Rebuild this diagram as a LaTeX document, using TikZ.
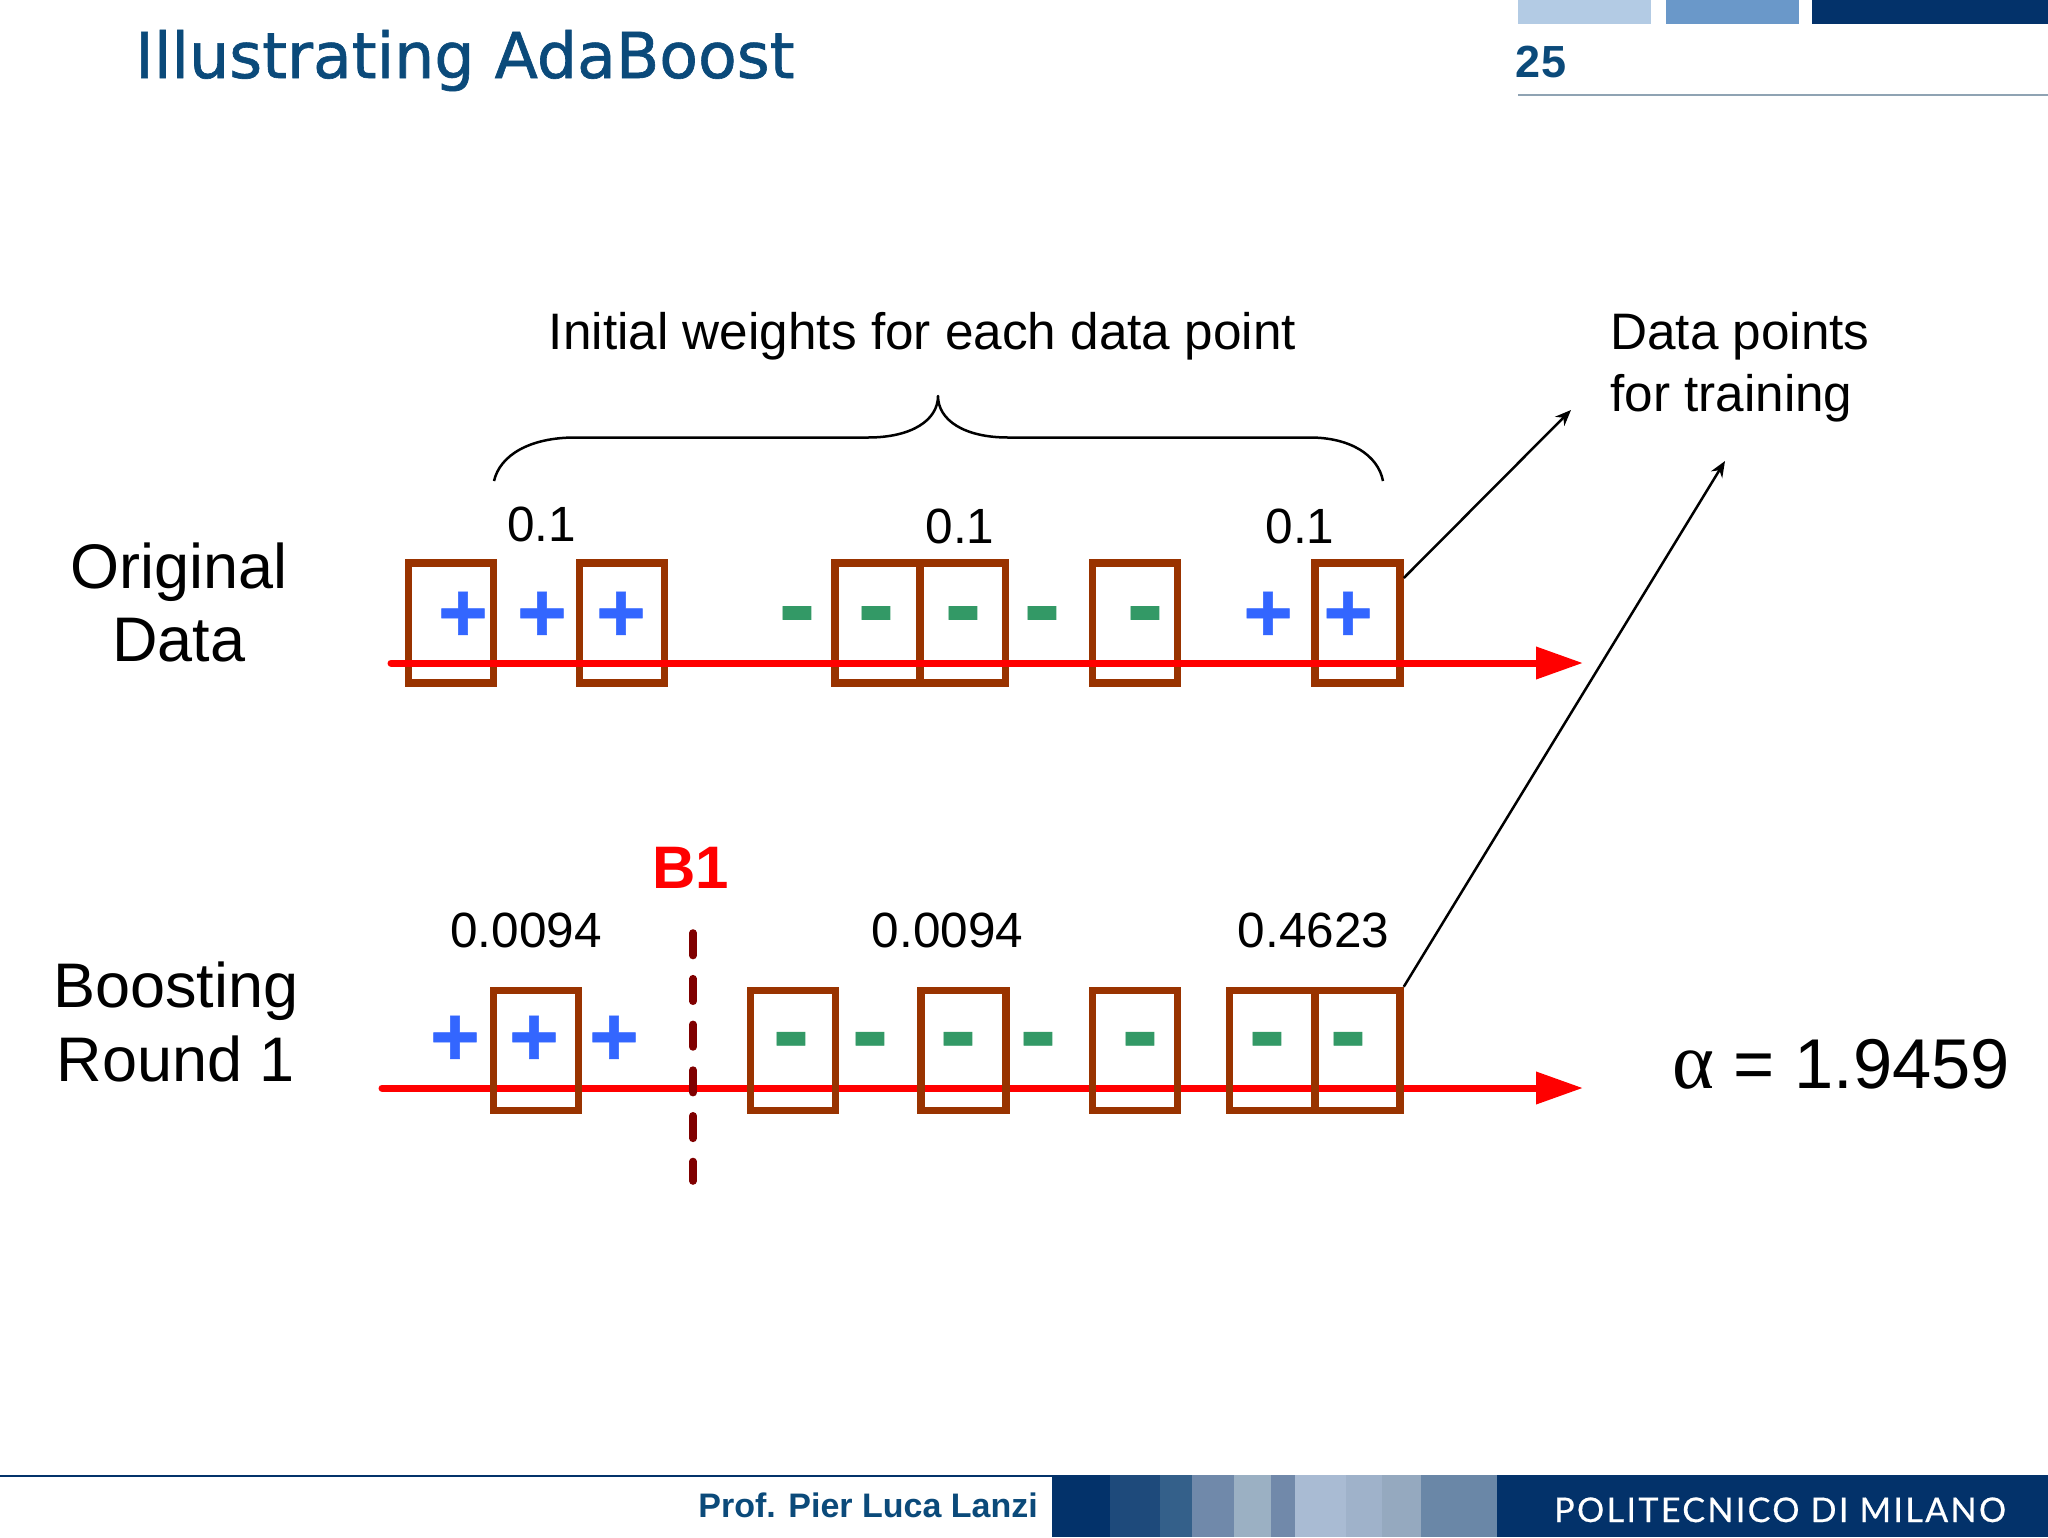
\documentclass[tikz,border=0pt]{standalone}
\usepackage{fontspec}
\usetikzlibrary{arrows.meta}
\setmainfont{Liberation Sans}
\newfontfamily\titlefont[FakeBold=1.0]{DejaVu Sans}
\newfontfamily\serifgreek{Liberation Serif}
\newfontfamily\polifont[LetterSpace=7,FakeBold=0.5]{Lato}
\newfontfamily\markfont[FakeBold=0.6]{Liberation Sans Bold}
\definecolor{boxbrown}{HTML}{993300}
\definecolor{axisred}{HTML}{FF0000}
\definecolor{plusblue}{HTML}{3366FF}
\definecolor{minusgreen}{HTML}{339966}
\definecolor{cutred}{HTML}{800000}
\definecolor{navy}{HTML}{03326A}
\definecolor{titleblue}{HTML}{0B4A7A}
\definecolor{barone}{HTML}{B3CBE4}
\definecolor{bartwo}{HTML}{6A98C9}
\definecolor{ruleg}{HTML}{8FA3B3}
\definecolor{fa}{HTML}{1E4A7B}
\definecolor{fb}{HTML}{34608A}
\definecolor{fc}{HTML}{7089AA}
\definecolor{fd}{HTML}{9BB0C3}
\definecolor{fe}{HTML}{7189AA}
\definecolor{ff}{HTML}{A9BBD3}
\definecolor{fg}{HTML}{9FB2CA}
\definecolor{fh}{HTML}{95A9BF}
\definecolor{fi}{HTML}{6A87A7}
\newcommand{\fs}[1]{\fontsize{#1}{#1}\selectfont}
\tikzset{
  databox/.style={draw=boxbrown,line width=7.5pt,rectangle,inner sep=0pt,minimum width=85pt,minimum height=120pt},
  plusmark/.style={text=plusblue,inner sep=0pt,font=\markfont\fs{85}},
  minusmark/.style={text=minusgreen,inner sep=0pt,font=\markfont\fs{110}},
  axis/.style={draw=axisred,line width=7pt,line cap=round,-{Triangle[length=47pt,width=31pt]}},
  weight/.style={anchor=base,inner sep=0pt,font=\fs{49}},
  biglabel/.style={anchor=base,inner sep=0pt,font=\fs{63}},
  annot/.style={anchor=base,inner sep=0pt,font=\fs{51.3}},
  pointer/.style={draw=black,line width=2.5pt,-{Stealth[length=16pt,width=13pt]}},
}
\begin{document}
\begin{tikzpicture}[x=1pt,y=-1pt]
\useasboundingbox (0,0) rectangle (2048,1537);
\fill[white] (0,0) rectangle (2048,1537);
% header
\node[anchor=base west,inner sep=0pt,font=\titlefont\fs{63.3},text=titleblue] (title) at (135,78) {Illustrating AdaBoost};
\fill[barone] (1518,0) rectangle (1651,24);
\fill[bartwo] (1666,0) rectangle (1799,24);
\fill[navy] (1812,0) rectangle (2048,24);
\node[anchor=base,inner sep=0pt,font=\fs{45}\bfseries,text=titleblue] (pagenum) at (1541,77) {25};
\draw[ruleg,line width=2pt] (1518,95) -- (2048,95);
% annotations
\node[annot] (initw) at (922.5,349) {Initial weights for each data point};
\node[annot,anchor=base west] (dp1) at (1610,349) {Data points};
\node[annot,anchor=base west] (dp2) at (1610,411) {for training};
\draw[line width=2.5pt,line join=round] (494,481) .. controls (500,455) and (530,437.5) .. (575,437.5) -- (868,437.5) .. controls (912,437.5) and (938,420) .. (938,396) .. controls (938,420) and (964,437.5) .. (1008,437.5) -- (1310,437.5) .. controls (1350,437.5) and (1378,455) .. (1383,481);
% row labels
\node[biglabel] (o1) at (179,588) {Original};
\node[biglabel] (o2) at (179,661) {Data};
\node[biglabel] (b1l) at (176,1007) {Boosting};
\node[biglabel] (b2l) at (176,1081) {Round 1};
% weights
\node[weight,font=\fs{49.5}] (w1) at (541.5,541) {0.1};
\node[weight,font=\fs{49.5}] (w2) at (960,543) {0.1};
\node[weight,font=\fs{49.5}] (w3) at (1300,543) {0.1};
\node[weight,font=\fs{49.5}] (w4) at (526,947) {0.0094};
\node[weight,font=\fs{49.5}] (w5) at (947.5,947) {0.0094};
\node[weight,font=\fs{49.5}] (w6) at (1313.5,947) {0.4623};
\node[anchor=base,inner sep=0pt,font=\fs{60}\bfseries,text=axisred] (bone) at (691,888) {B1};
\node[anchor=base west,inner sep=0pt,font=\fs{70.5}] (alpha) at (1672,1088) {{\serifgreek\fs{80}α} = 1.9459};
% row 1 boxes
\foreach \n/\x in {a/451,b/622,c/877.5,d/963,e/1135,f/1357.5}{
  \node[databox] (box\n) at (\x,623) {};
}
\coordinate (ax1s) at (391,663);
\coordinate (ax1e) at (1583,663);
\draw[axis] (ax1s) -- (ax1e);
\foreach \n/\x in {a/463,b/542,c/621,d/1268,e/1348}{
  \node[plusmark] (p\n) at (\x,616.7) {+};
}
\foreach \n/\x in {a/797,b/876,c/963,d/1042,e/1145}{
  \node[minusmark] (m\n) at (\x,624) {-};
}
% row 2 boxes
\coordinate (ax2s) at (382,1088);
\coordinate (ax2e) at (1583,1088);
\draw[axis] (ax2s) -- (ax2e);
\foreach \n/\x in {a/536,b/793,c/963.5,d/1135,e/1272,f/1357.5}{
  \node[databox] (row\n) at (\x,1050.5) {};
}
\foreach \n/\x in {a/455,b/534,c/614}{
  \node[plusmark] (q\n) at (\x,1040.7) {+};
}
\foreach \n/\x in {a/791,b/870,c/958,d/1038,e/1140,f/1267,g/1348}{
  \node[minusmark] (r\n) at (\x,1049.7) {-};
}
% decision boundary
\coordinate (cuts) at (693,933);
\coordinate (cute) at (693,1181);
\draw[draw=cutred,line width=7.6pt,line cap=round,dash pattern=on 22.5pt off 23.2pt] (cuts) -- (cute);
% pointers
\coordinate (dpa) at (1571,410);
\coordinate (dpb) at (1725,461);
\draw[pointer] ([yshift=45pt]boxf.east) -- (dpa);
\draw[pointer] (rowf.north east) -- (dpb);
% footer
\draw[navy,line width=2.5pt] (0,1476) -- (1052,1476);
\node[anchor=base east,inner sep=0pt,font=\fs{34}\bfseries,text=titleblue] (prof) at (1038,1517) {Prof. Pier Luca Lanzi};
\fill[navy] (1052,1475) rectangle (2048,1537);
\fill[fa] (1110,1475) rectangle (1160,1537);
\fill[fb] (1160,1475) rectangle (1192,1537);
\fill[fc] (1192,1475) rectangle (1234,1537);
\fill[fd] (1234,1475) rectangle (1271,1537);
\fill[fe] (1271,1475) rectangle (1295,1537);
\fill[ff] (1295,1475) rectangle (1346,1537);
\fill[fg] (1346,1475) rectangle (1382,1537);
\fill[fh] (1382,1475) rectangle (1421,1537);
\fill[fi] (1421,1475) rectangle (1497,1537);
\node[anchor=base west,inner sep=0pt,font=\polifont\fs{34},text=white] (poli) at (1554,1522) {POLITECNICO DI MILANO};
\end{tikzpicture}
\end{document}
